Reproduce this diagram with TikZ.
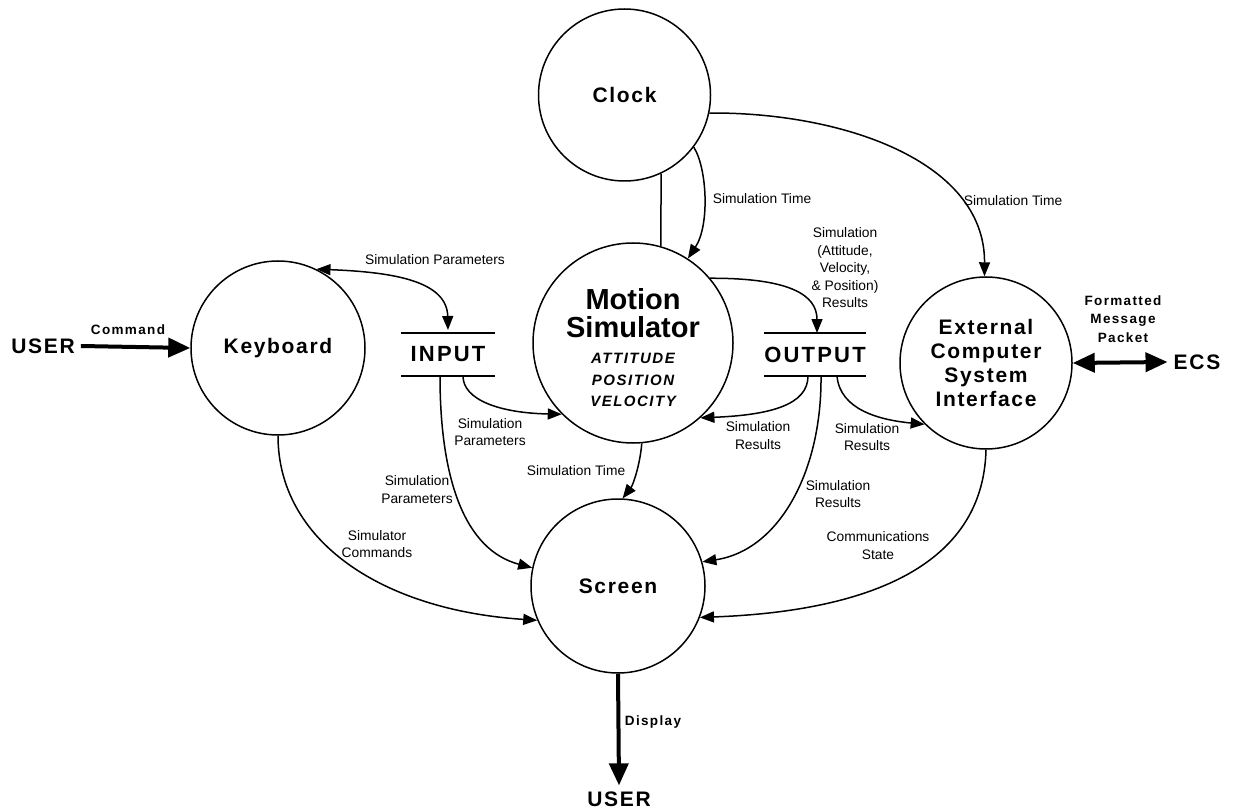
\documentclass[tikz,border=0pt]{standalone}
\usepackage{fontspec}
\setmainfont{Liberation Sans}
\newfontfamily\trk[LetterSpace=8]{Liberation Sans}
\newfontfamily\trkwide[LetterSpace=10]{Liberation Sans}
\usetikzlibrary{arrows.meta}

\begin{document}
\begin{tikzpicture}[x=1pt,y=-1pt,
  proc/.style={circle, draw, line width=1.5pt, inner sep=0pt, align=center,
    font=\trk\bfseries\fontsize{21}{24.3}\selectfont},
  store/.style={minimum width=94pt, minimum height=43pt, inner sep=0pt, outer sep=0pt,
    font=\trkwide\bfseries\fontsize{22}{22}\selectfont},
  storeline/.style={line width=2pt},
  term/.style={inner sep=6pt, font=\trk\bfseries\fontsize{21}{21}\selectfont},
  lbl/.style={inner sep=0pt, align=center, font=\fontsize{13.8}{17.5}\selectfont},
  blbl/.style={inner sep=0pt, align=center, font=\trkwide\bfseries\fontsize{13.5}{18.5}\selectfont},
  link/.style={line width=1.5pt},
  flow/.style={line width=1.5pt, -{Triangle[length=14pt,width=11pt]}},
  dflow/.style={line width=1.5pt, {Triangle[length=14pt,width=11pt]}-{Triangle[length=14pt,width=11pt]}},
  bigflow/.style={line width=4pt, -{Triangle[length=22pt,width=19pt]}},
  bigdflow/.style={line width=4pt, {Triangle[length=22pt,width=19pt]}-{Triangle[length=22pt,width=19pt]}}
]
\useasboundingbox (0,0) rectangle (1234,810);

% processes
\node[proc, minimum size=172pt] (clock) at (624.5,95) {Clock};
\node[proc, minimum size=200pt] (sim) at (633,343) {};
\node[inner sep=0pt, align=center, font=\bfseries\fontsize{29}{27.5}\selectfont] (simtitle) at (633,313) {Motion\\Simulator};
\node[inner sep=0pt, align=center, font=\trkwide\bfseries\itshape\fontsize{15}{21.7}\selectfont] (simvars) at (633,380) {ATTITUDE\\POSITION\\VELOCITY};
\node[proc, minimum size=174pt] (kbd) at (278,348) {Keyboard};
\node[proc, minimum size=172pt] (ecs) at (986,363) {External\\Computer\\System\\Interface};
\node[proc, minimum size=174pt] (screen) at (618,586) {Screen};

% data stores
\node[store] (input) at (448,354.5) {INPUT};
\node[store] (output) at (815,354.5) {OUTPUT};
\foreach \s in {input,output}{
  \draw[storeline] (\s.north west) -- (\s.north east);
  \draw[storeline] (\s.south west) -- (\s.south east);
}

% terminators
\node[term] (userin) at (43,346) {USER};
\node[term] (ecsx) at (1197,362) {ECS};
\node[term] (userout) at (619,799) {USER};

% external flows
\draw[bigflow] (userin.east) -- (kbd.west);
\draw[bigdflow] (ecs.east) -- (ecsx.west);
\draw[bigflow] (screen.south) -- (userout.north);
\node[blbl] (cmdlbl) at (128,330) {Command};
\node[blbl] (displbl) at (653,722) {Display};
\node[blbl] (fmplbl) at (1123,319) {Formatted\\Message\\Packet};

% internal flows
\draw[link] (clock.-65) -- (sim.74);
\draw[flow] (clock.-37) .. controls (707,168) and (710,225) .. (sim.57);
\draw[flow] (clock.-12) .. controls (840,112) and (985,160) .. (ecs.91);
\draw[dflow] (kbd.64) .. controls (390,272) and (447,280) .. ([yshift=3pt]input.north);
\draw[flow] ([xshift=15pt]input.south) .. controls (463,400) and (500,413) .. (sim.225);
\draw[flow] ([xshift=-8pt]input.south) .. controls (440,480) and (465,550) .. (screen.168);
\draw[flow] (kbd.-90) .. controls (278,540) and (380,610) .. (screen.203);
\draw[flow] (sim.-85) .. controls (640,465) and (633,485) .. (screen.87);
\draw[flow] (sim.40) .. controls (790,278) and (817,295) .. ([xshift=2pt]output.north);
\draw[flow] ([xshift=-7pt]output.south) .. controls (808,405) and (770,415) .. (sim.-48);
\draw[flow] ([xshift=22pt]output.south) .. controls (840,410) and (880,420) .. (ecs.225);
\draw[flow] ([xshift=6pt]output.south) .. controls (822,470) and (780,550) .. (screen.16);
\draw[flow] (ecs.-90) .. controls (983,575) and (850,612) .. (screen.-21);

% flow labels
\node[lbl] (l1) at (762,199) {Simulation Time};
\node[lbl] (l2) at (1013,201) {Simulation Time};
\node[lbl] (l3) at (435,260) {Simulation Parameters};
\node[lbl] (l4) at (490,432) {Simulation\\Parameters};
\node[lbl] (l5) at (417,489.5) {Simulation\\Parameters};
\node[lbl] (l6) at (377,544) {Simulator\\Commands};
\node[lbl] (l7) at (576,471) {Simulation Time};
\node[lbl] (l8) at (845,268) {Simulation\\(Attitude,\\Velocity,\\\& Position)\\Results};
\node[lbl] (l9) at (758,435.5) {Simulation\\Results};
\node[lbl] (l10) at (867,437) {Simulation\\Results};
\node[lbl] (l11) at (838,494) {Simulation\\Results};
\node[lbl] (l12) at (878,545.5) {Communications\\State};
\end{tikzpicture}
\end{document}
